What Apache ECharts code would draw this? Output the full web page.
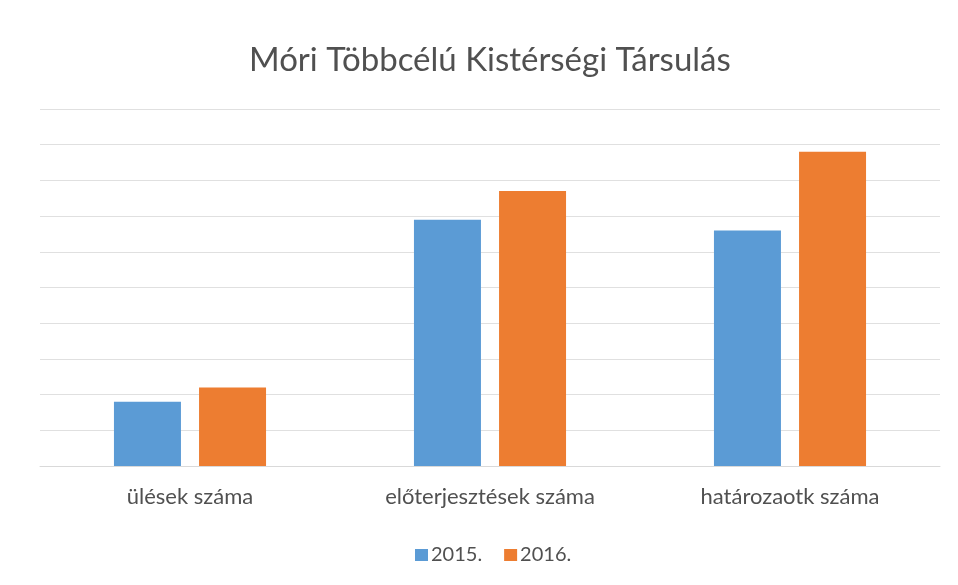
<!DOCTYPE html>
<html><head><meta charset="utf-8">
<script src="https://cdn.jsdelivr.net/npm/echarts@6/dist/echarts.min.js"></script>
<style>html,body{margin:0;padding:0;background:#fff}#c{width:958px;height:585px}</style>
</head><body><div id="c"></div>
<script>
const title = "Móri Többcélú Kistérségi Társulás";
const categories = ["ülések száma", "előterjesztések száma", "határozaotk száma"];
const seriesNames = ["2015.", "2016."];
const values2015 = [18, 69, 66];
const values2016 = [22, 77, 88];
const font = "Lato, 'Open Sans', sans-serif";
const chart = echarts.init(document.getElementById('c'));
chart.setOption({
  animation: false,
  backgroundColor: '#fff',
  title: { text: title, left: 244, top: 39, textStyle: { fontFamily: font, fontSize: 33, fontWeight: 'normal', color: '#505050' } },
  legend: { top: 540, left: 410, itemWidth: 13, itemHeight: 12, itemGap: 22, icon: 'rect',
    textStyle: { fontFamily: font, fontSize: 20, color: '#505050', padding: [0, 0, 0, -2] }, data: seriesNames },
  grid: { left: 40, right: 18, top: 109, bottom: 119 },
  xAxis: { type: 'category', data: categories,
    axisLine: { lineStyle: { color: '#d9d9d9' } }, axisTick: { show: false },
    axisLabel: { fontFamily: font, fontSize: 22, color: '#505050', margin: 20 } },
  yAxis: { type: 'value', min: 0, max: 100, interval: 10, axisLabel: { show: false },
    axisLine: { show: false }, axisTick: { show: false },
    splitLine: { lineStyle: { color: '#e0e0e0' } } },
  series: [
    { name: seriesNames[0], type: 'bar', data: values2015, barWidth: 67, barGap: '27%', itemStyle: { color: '#5B9BD5' } },
    { name: seriesNames[1], type: 'bar', data: values2016, barWidth: 67, itemStyle: { color: '#ED7D31' } }
  ]
});
</script></body></html>
